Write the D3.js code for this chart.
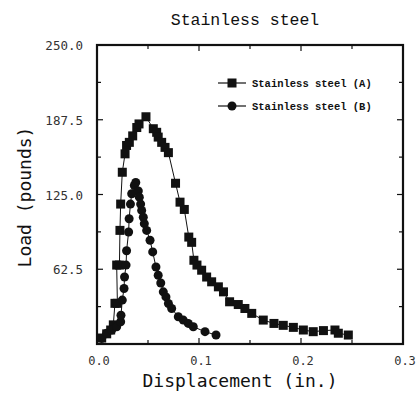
<!DOCTYPE html>
<html>
<head>
<meta charset="utf-8">
<script src="https://cdn.jsdelivr.net/npm/d3@7"></script>
<style>
  body { margin: 0; background: #fff; }
  svg { display: block; }
</style>
</head>
<body>
<div id="chart"></div>
<script>
// data: [displacement (in.), load (pounds)]
var seriesA = [
  [0.0046, 5], [0.0095, 8.5], [0.0134, 11.7], [0.016, 16],
  [0.0176, 34], [0.020, 34], [0.0193, 66], [0.022, 66],
  [0.0225, 95], [0.0232, 117], [0.0248, 143.6], [0.0275, 159],
  [0.029, 166], [0.0317, 168.6], [0.035, 174], [0.039, 181],
  [0.0412, 184], [0.048, 190], [0.0552, 180], [0.0585, 177],
  [0.060, 173], [0.0634, 168.6], [0.0667, 164.4], [0.070, 160],
  [0.077, 134.4], [0.0814, 118.6], [0.0856, 112.5], [0.090, 89.4],
  [0.0928, 85], [0.095, 70], [0.098, 66], [0.1026, 61.7],
  [0.1075, 56], [0.1124, 52], [0.119, 47.8], [0.124, 43.6],
  [0.130, 35.3], [0.1385, 33], [0.145, 29.7], [0.1517, 25.6],
  [0.163, 20], [0.1735, 17.2], [0.1826, 15.6], [0.1925, 13.9],
  [0.2023, 11.7], [0.212, 10.3], [0.222, 11.2], [0.2333, 11.7],
  [0.2366, 9], [0.2464, 7.5]
];
var seriesB = [
  [0.0046, 4.7], [0.0095, 8.9], [0.0144, 11.7], [0.0193, 14.4],
  [0.0232, 18.6], [0.0235, 24], [0.0248, 36.7], [0.0265, 46.4],
  [0.027, 56], [0.0285, 66], [0.029, 78], [0.031, 93.6],
  [0.0315, 104.7], [0.0328, 117], [0.034, 125.6], [0.0366, 132.5],
  [0.038, 135], [0.0405, 128], [0.0415, 122.8], [0.0428, 117],
  [0.0438, 111.7], [0.0454, 106], [0.0464, 100.6], [0.0487, 95],
  [0.052, 86.7], [0.0546, 77], [0.0578, 64.4], [0.060, 57.5],
  [0.0625, 51], [0.065, 43.6], [0.0676, 39.4], [0.070, 33.9],
  [0.0732, 29.7], [0.0797, 22.8], [0.0846, 20], [0.0895, 17.2],
  [0.0944, 14.4], [0.1059, 10.3], [0.1167, 7.5]
];
var seriesNames = ["Stainless steel (A)", "Stainless steel (B)"];
var xTicks = [0, 0.1, 0.2, 0.3];
var yTicks = [62.5, 125, 187.5, 250];
var xMinor = [0.05, 0.15, 0.25];
var yMinor = [31.25, 93.75, 156.25, 218.75];

var width = 417, height = 393;
var svg = d3.select("#chart").append("svg")
  .attr("width", width).attr("height", height);

var x = d3.scaleLinear().domain([0, 0.3]).range([97, 403]);
var y = d3.scaleLinear().domain([0, 250]).range([344, 45]);

var tickFont = "'DejaVu Sans Mono', monospace";
var labelFont = "'DejaVu Sans Mono', monospace";
var serifMono = "'Liberation Mono', 'Courier New', monospace";

// frame
svg.append("rect")
  .attr("x", x(0)).attr("y", y(250))
  .attr("width", x(0.3) - x(0)).attr("height", y(0) - y(250))
  .attr("fill", "none").attr("stroke", "#111").attr("stroke-width", 2.2);

// inward ticks on all sides
var g = svg.append("g").attr("stroke", "#111").attr("stroke-width", 1.2);
xTicks.concat(xMinor).forEach(function(t) {
  var len = xMinor.indexOf(t) >= 0 ? 4 : 6;
  g.append("line").attr("x1", x(t)).attr("x2", x(t)).attr("y1", y(0)).attr("y2", y(0) - len);
  g.append("line").attr("x1", x(t)).attr("x2", x(t)).attr("y1", y(250)).attr("y2", y(250) + len);
});
yTicks.concat(yMinor).forEach(function(t) {
  var len = yMinor.indexOf(t) >= 0 ? 4 : 6;
  g.append("line").attr("x1", x(0)).attr("x2", x(0) + len).attr("y1", y(t)).attr("y2", y(t));
  g.append("line").attr("x1", x(0.3)).attr("x2", x(0.3) - len).attr("y1", y(t)).attr("y2", y(t));
});

// tick labels
svg.selectAll(".xl").data(xTicks).enter().append("text")
  .attr("x", function(d) { return x(d) + 2; }).attr("y", 365)
  .attr("text-anchor", "middle")
  .style("font-family", tickFont).style("font-size", "12px").attr("fill", "#333")
  .text(function(d) { return d3.format(".1f")(d); });
svg.selectAll(".yl").data(yTicks).enter().append("text")
  .attr("x", 83).attr("y", function(d) { return y(d) + 5; })
  .attr("text-anchor", "end")
  .style("font-family", tickFont).style("font-size", "12.5px").attr("fill", "#333")
  .text(function(d) { return d3.format(".1f")(d); });

// titles
svg.append("text").attr("x", 245).attr("y", 25).attr("text-anchor", "middle")
  .style("font-family", serifMono).style("font-size", "16.5px").attr("fill", "#111")
  .text("Stainless steel");
svg.append("text").attr("x", 240).attr("y", 387).attr("text-anchor", "middle")
  .style("font-family", labelFont).style("font-size", "18px").attr("fill", "#111")
  .text("Displacement (in.)");
svg.append("text").attr("transform", "translate(31,197) rotate(-90)")
  .attr("text-anchor", "middle")
  .style("font-family", labelFont).style("font-size", "18px").attr("fill", "#111")
  .text("Load (pounds)");

// lines
var line = d3.line().x(function(d) { return x(d[0]); }).y(function(d) { return y(d[1]); });
[seriesA, seriesB].forEach(function(s) {
  svg.append("path").datum(s).attr("d", line)
    .attr("fill", "none").attr("stroke", "#111").attr("stroke-width", 1);
});

// markers
svg.selectAll(".sq").data(seriesA).enter().append("rect")
  .attr("x", function(d) { return x(d[0]) - 4.5; })
  .attr("y", function(d) { return y(d[1]) - 4.5; })
  .attr("width", 9).attr("height", 9).attr("fill", "#111");
svg.selectAll(".ci").data(seriesB).enter().append("circle")
  .attr("cx", function(d) { return x(d[0]); })
  .attr("cy", function(d) { return y(d[1]); })
  .attr("r", 4.5).attr("fill", "#111");

// legend
var legY = [83, 106];
seriesNames.forEach(function(name, i) {
  var lg = svg.append("g");
  lg.append("line").attr("x1", 218).attr("x2", 246).attr("y1", legY[i]).attr("y2", legY[i])
    .attr("stroke", "#111").attr("stroke-width", 1.2);
  if (i == 0) {
    lg.append("rect").attr("x", 227.5).attr("y", legY[i] - 4.5).attr("width", 9).attr("height", 9).attr("fill", "#111");
  } else {
    lg.append("circle").attr("cx", 232).attr("cy", legY[i]).attr("r", 4.5).attr("fill", "#111");
  }
  lg.append("text").attr("x", 252).attr("y", legY[i] + 4)
    .style("font-family", serifMono).style("font-size", "10.5px").style("font-weight", "bold")
    .attr("fill", "#111").text(name);
});
</script>
</body>
</html>
